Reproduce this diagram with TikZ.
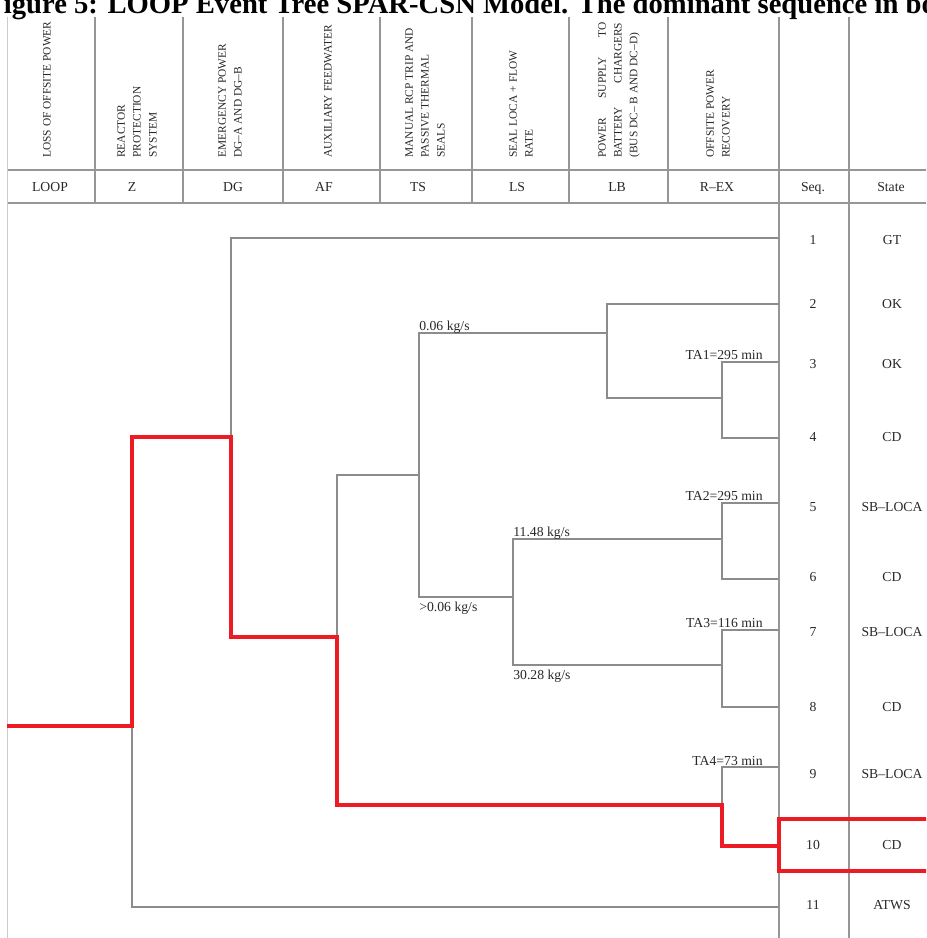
\documentclass[tikz,border=0pt]{standalone}
\usepackage{fontspec}
\setmainfont{Liberation Serif}
\usepackage{tikz}
\tikzset{>=latex}
\definecolor{treegray}{RGB}{140,140,140}
\definecolor{rulegray}{RGB}{150,150,150}
\definecolor{pathred}{RGB}{237,28,36}
\definecolor{inkgray}{RGB}{40,40,40}
\tikzset{
	branch/.style={draw=treegray, line width=0.7pt},
	dominant/.style={draw=pathred, line width=2.8pt, line join=miter},
	rule/.style={draw=rulegray, line width=0.7pt},
	head/.style={rotate=90, anchor=west, align=left, inner sep=0pt, text=inkgray, font=\fontsize{6.5}{9}\selectfont},
	code/.style={inner sep=0pt, text depth=0pt, text=inkgray, font=\fontsize{7.8}{9}\selectfont},
	flow/.style={inner sep=0pt, text=inkgray, font=\fontsize{7.8}{9}\selectfont}
}

\begin{document}
\begin{tikzpicture}[x=0.2mm, y=-0.2mm]
	\useasboundingbox (0,0) rectangle (926,938);
	\clip (0,0) rectangle (926,938);

	\node[anchor=base west, inner sep=0pt, font=\fontsize{16.3}{18}\selectfont\bfseries] (caption) at (-14,14)
		{Figure 5: LOOP Event Tree SPAR-CSN Model. The dominant sequence in bo};

	% table
	\draw[rule] (7,170) -- (926,170) (7,203) -- (926,203);
	\foreach \x in {95,183,283,380,472,569,668}
		\draw[rule] (\x,17) -- (\x,203);
	\foreach \x in {779,849}
		\draw[rule] (\x,17) -- (\x,938);
	\draw[draw=rulegray!50, line width=0.5pt] (7,17) -- (7,938);

	\node[head] (hLOOP) at (47,158) {LOSS OF OFFSITE POWER};
	\node[head] (hZ) at (137,158) {REACTOR\\PROTECTION\\SYSTEM};
	\node[head] (hDG) at (230,158) {EMERGENCY POWER\\DG--A AND DG--B};
	\node[head] (hAF) at (328,158) {AUXILIARY FEEDWATER};
	\node[head] (hTS) at (425,158) {MANUAL RCP TRIP AND\\PASSIVE THERMAL\\SEALS};
	\node[head] (hLS) at (521,158) {SEAL LOCA + FLOW\\RATE};
	\node[head] (hLB) at (619,158) {\makebox[27mm][s]{POWER\hfill SUPPLY\hfill TO}\\
		\makebox[27mm][s]{BATTERY\hfill CHARGERS}\\(BUS DC-- B AND DC--D)};
	\node[head] (hREX) at (718,158) {OFFSITE POWER\\RECOVERY};

	\node[code] (cLOOP) at (50,187) {LOOP};
	\node[code] (cZ) at (132,187) {Z};
	\node[code] (cDG) at (233,187) {DG};
	\node[code] (cAF) at (324,187) {AF};
	\node[code] (cTS) at (418,187) {TS};
	\node[code] (cLS) at (517,187) {LS};
	\node[code] (cLB) at (617,187) {LB};
	\node[code] (cREX) at (717,187) {R--EX};
	\node[code] (cSeq) at (813,187) {Seq.};
	\node[code] (cState) at (891,187) {State};

	\foreach \n/\ly/\ty/\s in {1/238/240/GT, 2/304/304/OK, 3/362/364/OK, 4/438/437/CD,
			5/503/507/SB--LOCA, 6/579/577/CD, 7/630/632/SB--LOCA, 8/707/707/CD,
			9/767/774/SB--LOCA, 10/846/845/CD, 11/907/905/ATWS}{
		\coordinate (e\n) at (779,\ly);
		\node[code] (seq\n) at (813,\ty) {\n};
		\node[code] (state\n) at (892,\ty) {\s};
	}

	% tree
	\coordinate (init) at (7,726);
	\coordinate (z) at (132,726);
	\coordinate (dg) at (231,437);
	\coordinate (af) at (337,637);
	\coordinate (ts) at (419,475);
	\coordinate (lb) at (607,333);
	\coordinate (ls) at (513,597);
	\coordinate (rx1) at (722,398);
	\coordinate (rx2) at (722,539);
	\coordinate (rx3) at (722,665);
	\coordinate (rx4) at (722,805);

	\draw[branch] (z) |- (e11);
	\draw[branch] (dg) |- (e1);
	\draw[branch] (af) |- (ts);
	\draw[branch] (ts) |- (lb) (ts) |- (ls);
	\draw[branch] (lb) |- (e2) (lb) |- (rx1);
	\draw[branch] (rx1) |- (e3) (rx1) |- (e4);
	\draw[branch] (ls) |- (rx2) (ls) |- (rx3);
	\draw[branch] (rx2) |- (e5) (rx2) |- (e6);
	\draw[branch] (rx3) |- (e7) (rx3) |- (e8);
	\draw[branch] (rx4) |- (e9);

	\node[flow, anchor=base west] (q1) at (419,330) {0.06 kg/s};
	\node[flow, anchor=base west] (q2) at (419,611) {>0.06 kg/s};
	\node[flow, anchor=base west] (q3) at (513,536) {11.48 kg/s};
	\node[flow, anchor=base west] (q4) at (513,679) {30.28 kg/s};
	\node[flow, anchor=base east] (t1) at (763,359) {TA1=295 min};
	\node[flow, anchor=base east] (t2) at (763,500) {TA2=295 min};
	\node[flow, anchor=base east] (t3) at (763,627) {TA3=116 min};
	\node[flow, anchor=base east] (t4) at (763,765) {TA4=73 min};

	% dominant sequence
	\draw[dominant] (init) -- (z) |- (dg) |- (af) |- (rx4) |- (e10);
	\draw[dominant] (779,819) rectangle (940,871);
\end{tikzpicture}
\end{document}
